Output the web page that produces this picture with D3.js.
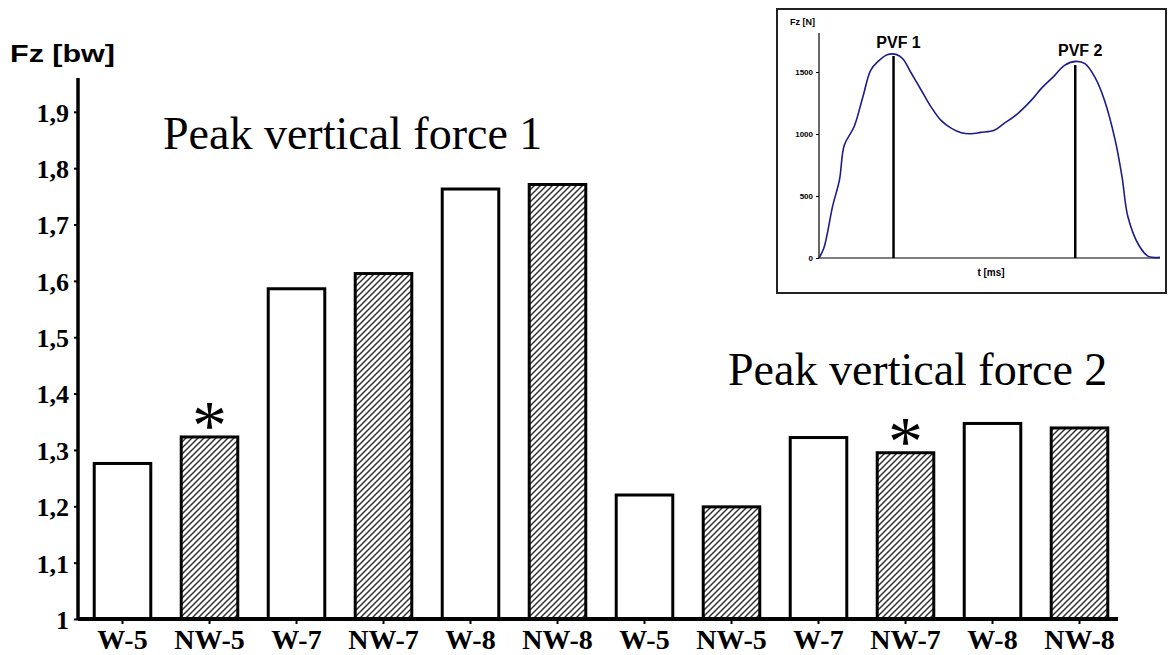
<!DOCTYPE html>
<html lang="en">
<head>
    <meta charset="UTF-8">
    <title>Peak vertical force</title>
    <style>
        body{
            margin:0;
            background:white;
        }
        svg text{
            pointer-events: none;
        }
    </style>
</head>
<body>
<script src="https://d3js.org/d3.v7.min.js"></script>
<script>

    // main chart data
    var groups = ["Peak vertical force 1", "Peak vertical force 2"];
    var conditions = ["W-5", "NW-5", "W-7", "NW-7", "W-8", "NW-8"];
    var pvf1 = [1.276, 1.323, 1.586, 1.613, 1.763, 1.771];
    var pvf2 = [1.220, 1.199, 1.322, 1.295, 1.347, 1.339];
    var sigPvf1 = ["NW-5"];
    var sigPvf2 = ["NW-7"];
    var yTicks = [1, 1.1, 1.2, 1.3, 1.4, 1.5, 1.6, 1.7, 1.8, 1.9];

    // inset: force-time curve
    var curveT = [0, 5, 14, 21, 26, 36, 45, 53, 60, 70, 79, 86, 94, 105, 115, 125, 136, 146, 156, 166, 180, 190, 204, 218, 228, 242, 252, 264, 273, 283, 293, 304, 311, 317, 328, 338, 350];
    var curveF = [0, 80, 418, 630, 911, 1058, 1299, 1514, 1581, 1640, 1642, 1607, 1500, 1353, 1219, 1112, 1045, 1010, 1002, 1013, 1031, 1085, 1165, 1273, 1366, 1473, 1554, 1586, 1567, 1460, 1273, 951, 656, 335, 107, 13, 5];
    var pvfLabels = ["PVF 1", "PVF 2"];
    var pvfT = [76.5, 263];
    var pvfF = [1629, 1556];
    var insetTicks = [0, 500, 1000, 1500];

    var width = 1168, height = 655;

    var svg = d3.select("body").append("svg")
            .attr("width", width)
            .attr("height", height);

    var defs = svg.append("defs");
    var pat = defs.append("pattern")
            .attr("id", "hatch")
            .attr("patternUnits", "userSpaceOnUse")
            .attr("width", 6)
            .attr("height", 6);
    pat.append("rect").attr("width", 6).attr("height", 6).style("fill", "white");
    pat.append("path")
            .attr("d", "M-1,7 L7,-1 M-4,4 L4,-4 M2,10 L10,2")
            .style("stroke", "#333")
            .style("stroke-width", 1.5);

    var bars = [];
    conditions.forEach(function(c, i){
        bars.push({group: 0, cond: c, value: pvf1[i], sig: sigPvf1.indexOf(c) > -1});
    });
    conditions.forEach(function(c, i){
        bars.push({group: 1, cond: c, value: pvf2[i], sig: sigPvf2.indexOf(c) > -1});
    });
    bars.forEach(function(d, i){ d.key = i; });

    var x = d3.scaleBand()
            .domain(d3.range(bars.length))
            .range([79, 1123])
            .paddingInner(0.35)
            .paddingOuter(0.175);

    var y = d3.scaleLinear()
            .domain([1, 1.96])
            .range([619, 78]);

    var locale = d3.formatLocale({decimal: ",", thousands: ".", grouping: [3], currency: ["", ""]});
    var fmt = locale.format("~g");

    // bars
    svg.selectAll(".bar")
            .data(bars).enter()
            .append("rect")
            .attr("class", "bar")
            .attr("x", function(d){ return x(d.key); })
            .attr("y", function(d){ return y(d.value); })
            .attr("width", x.bandwidth())
            .attr("height", function(d){ return y(1) - y(d.value); })
            .style("fill", function(d){ return d.cond.indexOf("NW") == 0 ? "url(#hatch)" : "white"; })
            .style("stroke", "black")
            .style("stroke-width", 3);

    // significance marks
    svg.selectAll(".sig")
            .data(bars.filter(function(d){ return d.sig; })).enter()
            .append("text")
            .attr("class", "sig")
            .attr("x", function(d){ return x(d.key) + x.bandwidth() / 2; })
            .attr("y", function(d){ return y(d.value) + 12; })
            .attr("text-anchor", "middle")
            .style("font-family", "'Liberation Serif', 'Times New Roman', serif")
            .style("font-size", "70px")
            .text("*");

    // y axis
    var yAxis = svg.append("g")
            .attr("transform", "translate(78,0)")
            .call(d3.axisLeft(y).tickValues(yTicks).tickFormat(fmt).tickSize(4).tickPadding(5));
    yAxis.select(".domain").style("stroke-width", 3.5).attr("d", "M0," + y(1) + "V" + y.range()[1]);
    yAxis.selectAll(".tick line").style("stroke-width", 2);
    yAxis.selectAll("text")
            .attr("dy", "0.36em")
            .style("font-family", "'Liberation Serif', 'Times New Roman', serif")
            .style("font-weight", "bold")
            .style("font-size", "26px")
            .style("fill", "black");

    // x axis
    var xAxis = svg.append("g")
            .attr("transform", "translate(0," + y(1) + ")")
            .call(d3.axisBottom(x).tickFormat(function(i){ return bars[i].cond; }).tickSize(5).tickPadding(6));
    xAxis.select(".domain").style("stroke-width", 4).attr("d", "M78,0H1118");
    xAxis.selectAll(".tick line").style("stroke-width", 2);
    xAxis.selectAll("text")
            .attr("dy", "0.68em")
            .style("font-family", "'Liberation Serif', 'Times New Roman', serif")
            .style("font-weight", "bold")
            .style("font-size", "28px")
            .style("fill", "black");

    svg.append("text")
            .attr("x", 10)
            .attr("y", 62)
            .attr("textLength", 105)
            .attr("lengthAdjust", "spacingAndGlyphs")
            .style("font-family", "'Liberation Sans', Arial, sans-serif")
            .style("font-weight", "bold")
            .style("font-size", "23px")
            .text("Fz [bw]");

    // group titles
    var titlePos = [[163, 149], [728, 385]];
    svg.selectAll(".title")
            .data(groups).enter()
            .append("text")
            .attr("class", "title")
            .attr("x", function(d, i){ return titlePos[i][0]; })
            .attr("y", function(d, i){ return titlePos[i][1]; })
            .style("font-family", "'Liberation Serif', 'Times New Roman', serif")
            .style("font-size", "46px")
            .text(function(d){ return d; });

    // ---------- inset ----------
    var inset = svg.append("g").attr("class", "inset");

    inset.append("rect")
            .attr("x", 777)
            .attr("y", 9)
            .attr("width", 389)
            .attr("height", 284)
            .style("fill", "white")
            .style("stroke", "#222")
            .style("stroke-width", 2);

    var ix = d3.scaleLinear().domain([0, 350]).range([819, 1160]);
    var iy = d3.scaleLinear().domain([0, 1500]).range([258, 72]);

    var iyAxis = inset.append("g")
            .attr("transform", "translate(819,0)")
            .call(d3.axisLeft(iy).tickValues(insetTicks).tickFormat(d3.format("d")).tickSize(3).tickPadding(3));
    iyAxis.select(".domain").attr("d", "M0," + iy(0) + "V33").style("stroke-width", 1.2);
    iyAxis.selectAll("text")
            .style("font-family", "'Liberation Sans', Arial, sans-serif")
            .style("font-weight", "bold")
            .style("font-size", "8px");

    inset.append("line")
            .attr("x1", ix(0)).attr("x2", ix(350))
            .attr("y1", iy(0)).attr("y2", iy(0))
            .style("stroke", "black")
            .style("stroke-width", 1.2);

    inset.append("text")
            .attr("x", 790)
            .attr("y", 25)
            .style("font-family", "'Liberation Sans', Arial, sans-serif")
            .style("font-weight", "bold")
            .style("font-size", "9px")
            .text("Fz [N]");

    inset.append("text")
            .attr("x", 991)
            .attr("y", 276)
            .attr("text-anchor", "middle")
            .style("font-family", "'Liberation Sans', Arial, sans-serif")
            .style("font-weight", "bold")
            .style("font-size", "10px")
            .text("t [ms]");

    var pts = curveT.map(function(t, i){ return [t, curveF[i]]; });
    inset.append("path")
            .datum(pts)
            .attr("d", d3.line()
                    .x(function(d){ return ix(d[0]); })
                    .y(function(d){ return iy(d[1]); })
                    .curve(d3.curveCatmullRom))
            .style("fill", "none")
            .style("stroke", "#1c1c8a")
            .style("stroke-width", 1.6);

    inset.selectAll(".pvf")
            .data(pvfT).enter()
            .append("line")
            .attr("class", "pvf")
            .attr("x1", function(d){ return ix(d); })
            .attr("x2", function(d){ return ix(d); })
            .attr("y1", iy(0))
            .attr("y2", function(d, i){ return iy(pvfF[i]); })
            .style("stroke", "black")
            .style("stroke-width", 2.5);

    var pvfLabelY = [48, 56];
    inset.selectAll(".pvf-txt")
            .data(pvfLabels).enter()
            .append("text")
            .attr("class", "pvf-txt")
            .attr("x", function(d, i){ return ix(pvfT[i]) + 5; })
            .attr("y", function(d, i){ return pvfLabelY[i]; })
            .attr("text-anchor", "middle")
            .style("font-family", "'Liberation Sans', Arial, sans-serif")
            .style("font-weight", "bold")
            .style("font-size", "16px")
            .text(function(d){ return d; });

</script>
</body>
</html>
